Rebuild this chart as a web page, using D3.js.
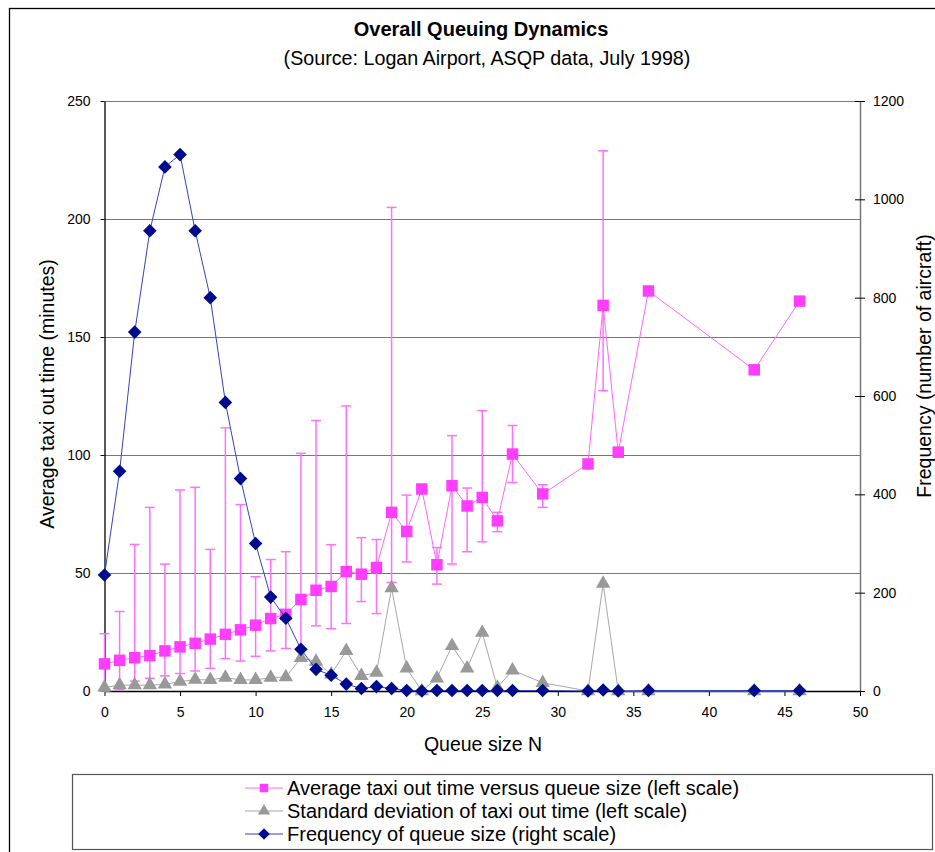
<!DOCTYPE html>
<html>
<head>
<meta charset="utf-8">
<script src="https://cdn.jsdelivr.net/npm/d3@7"></script>
<style>
  html, body { margin: 0; padding: 0; background: #fff; }
  svg { display: block; font-family: "Liberation Sans", Arial, sans-serif; }
</style>
</head>
<body>
<svg id="chart" width="935" height="852"></svg>
<script>
// ---- data ----
const queueSize = [0,1,2,3,4,5,6,7,8,9,10,11,12,13,14,15,16,17,18,19,20,21,22,23,24,25,26,27,29,32,33,34,36,43,46];
const avgTaxi   = [11.5,13,14.1,15,17,18.7,20.2,22,24,25.9,27.9,30.7,32.5,38.8,42.7,44.3,50.6,49.5,52.3,75.7,67.6,85.6,53.5,87,78.4,82,72.1,100.4,83.5,96.2,163.4,101.2,169.5,136.1,165.2];
const errUpper  = [24.3,33.7,62.1,77.8,53.8,85.2,86.3,60,111.5,79,48.4,55.7,59,100.7,114.6,62,120.8,65,64.2,204.9,83,null,60.8,108.2,86,118.8,75.7,112.5,87.4,null,228.9,null,null,null,null];
const errLower  = [0,0.5,4.2,5.4,6.4,7.4,8.5,9.6,13.7,12.7,14.7,17,18,18,27.6,26.4,28.6,37.9,32.8,46,54.7,null,45.3,53.8,59,63.2,67.5,88.3,77.8,null,127.3,null,null,null,null];
const stdDev    = [1.5,2.5,2.5,2.5,2.8,4,4.8,4.7,5.7,4.7,4.7,5.7,5.9,14,12.5,7.1,17,6.4,7.8,43.6,9.6,0,5.4,19.1,9.6,24.7,1.4,8.8,3.5,0,45.5,0,0,0,0];
const frequency = [236,447,730,936,1066,1091,936,800,587,432,300,191,148,85,44,32,14,5,9,5,1,0,1,1,1,1,1,1,1,0,2,0,1,1,1];

const xTicks = [0,5,10,15,20,25,30,35,40,45,50];
const leftTicks = [0,50,100,150,200,250];
const rightTicks = [0,200,400,600,800,1000,1200];

const titleText = "Overall Queuing Dynamics";
const subtitleText = "(Source: Logan Airport, ASQP data, July 1998)";
const xTitle = "Queue size N";
const yLeftTitle = "Average taxi out time (minutes)";
const yRightTitle = "Frequency (number of aircraft)";
const legendLabels = [
  "Average taxi out time versus queue size (left scale)",
  "Standard deviation of taxi out time (left scale)",
  "Frequency of queue size (right scale)"
];

// ---- styles ----
const C = {
  pinkFill: "#ff3dff", pinkLine: "#ff66ff", pinkErr: "#ff70ff",
  grayFill: "#999999", grayLine: "#a8a8a8",
  blueFill: "#000c8c", blueLine: "#3344bb",
  grid: "#777777"
};
const FONT = "Liberation Sans, Arial, sans-serif";

const svg = d3.select("#chart");
const L = 104.5, R = 860, T = 101, B = 691;

const x = d3.scaleLinear().domain([0, 50]).range([L, R]);
const yL = d3.scaleLinear().domain([0, 250]).range([B, T]);
const yR = d3.scaleLinear().domain([0, 1200]).range([B, T]);

// outer frame
svg.append("rect").attr("x", 9.5).attr("y", 8.5).attr("width", 1000).attr("height", 1000)
  .attr("fill", "none").attr("stroke", "#000").attr("stroke-width", 1.3);

// titles
svg.append("text").attr("x", 481).attr("y", 36).attr("text-anchor", "middle")
  .attr("font-size", 20).attr("font-weight", "bold").text(titleText);
svg.append("text").attr("x", 487).attr("y", 65).attr("text-anchor", "middle")
  .attr("font-size", 19.7).text(subtitleText);

// gridlines
svg.append("g").selectAll("line").data(leftTicks.filter(d => d > 0)).join("line")
  .attr("x1", L).attr("x2", R).attr("y1", d => Math.round(yL(d)) + 0.5).attr("y2", d => Math.round(yL(d)) + 0.5)
  .attr("stroke", C.grid).attr("stroke-width", 1.2);

// left axis
const gL = svg.append("g").attr("transform", `translate(${L},0)`)
  .call(d3.axisLeft(yL).tickValues(leftTicks).tickSize(4).tickPadding(10).tickSizeOuter(0).tickFormat(d3.format("d")));
gL.select(".domain").attr("stroke", "#000").attr("stroke-width", 1.3);
gL.selectAll(".tick text").attr("font-size", 14).attr("font-family", FONT).attr("fill", "#000");

// right axis
const gR = svg.append("g").attr("transform", `translate(${R},0)`)
  .call(d3.axisRight(yR).tickValues(rightTicks).tickSize(5).tickPadding(8).tickSizeOuter(0).tickFormat(d3.format("d")));
gR.select(".domain").attr("stroke", "#777").attr("stroke-width", 1.5);
gR.selectAll(".tick line").attr("x1", -5).attr("stroke", "#000");
gR.selectAll(".tick text").attr("font-size", 14).attr("font-family", FONT).attr("fill", "#000");

// bottom axis
const gB = svg.append("g").attr("transform", `translate(0,${B})`)
  .call(d3.axisBottom(x).tickValues(xTicks).tickSize(5).tickPadding(11).tickSizeOuter(0).tickFormat(d3.format("d")));
gB.select(".domain").attr("stroke", "#000").attr("stroke-width", 1.3);
gB.selectAll(".tick text").attr("font-size", 14).attr("font-family", FONT).attr("fill", "#000");

// axis titles
svg.append("text").attr("x", 483).attr("y", 751).attr("text-anchor", "middle").attr("font-size", 19.5).text(xTitle);
svg.append("text").attr("transform", `translate(54,394) rotate(-90)`).attr("text-anchor", "middle")
  .attr("font-size", 19.5).text(yLeftTitle);
svg.append("text").attr("transform", `translate(931,366) rotate(-90)`).attr("text-anchor", "middle")
  .attr("font-size", 19.5).text(yRightTitle);

// data records
const rows = queueSize.map((q, i) => ({ q, avg: avgTaxi[i], up: errUpper[i], lo: errLower[i], sd: stdDev[i], f: frequency[i] }));

const sq = d3.symbol().type(d3.symbolSquare).size(132);
const tri = d3.symbol().type(d3.symbolTriangle).size(90);

// series 1: average taxi time with error bars
const gAvg = svg.append("g");
const errRows = rows.filter(d => d.up !== null);
gAvg.selectAll("line.err").data(errRows).join("line").attr("class", "err")
  .attr("x1", d => x(d.q)).attr("x2", d => x(d.q)).attr("y1", d => yL(d.up)).attr("y2", d => yL(d.lo))
  .attr("stroke", C.pinkErr).attr("stroke-width", 1.5);
gAvg.selectAll("line.capU").data(errRows).join("line").attr("class", "capU")
  .attr("x1", d => x(d.q) - 5).attr("x2", d => x(d.q) + 5).attr("y1", d => yL(d.up)).attr("y2", d => yL(d.up))
  .attr("stroke", C.pinkErr).attr("stroke-width", 1.5);
gAvg.selectAll("line.capL").data(errRows).join("line").attr("class", "capL")
  .attr("x1", d => x(d.q) - 5).attr("x2", d => x(d.q) + 5).attr("y1", d => yL(d.lo)).attr("y2", d => yL(d.lo))
  .attr("stroke", C.pinkErr).attr("stroke-width", 1.5);
gAvg.append("path").datum(rows).attr("fill", "none").attr("stroke", C.pinkLine).attr("stroke-width", 1)
  .attr("d", d3.line().x(d => x(d.q)).y(d => yL(d.avg)));
gAvg.selectAll("path.m").data(rows).join("path").attr("class", "m")
  .attr("transform", d => `translate(${x(d.q)},${yL(d.avg)})`).attr("d", sq).attr("fill", C.pinkFill);

// series 2: std dev
const gSd = svg.append("g");
gSd.append("path").datum(rows).attr("fill", "none").attr("stroke", C.grayLine).attr("stroke-width", 1)
  .attr("d", d3.line().x(d => x(d.q)).y(d => yL(d.sd)));
gSd.selectAll("path.m").data(rows).join("path").attr("class", "m")
  .attr("transform", d => `translate(${x(d.q)},${yL(d.sd)})`).attr("d", tri).attr("fill", C.grayFill);

// series 3: frequency
const gF = svg.append("g");
gF.append("path").datum(rows).attr("fill", "none").attr("stroke", C.blueLine).attr("stroke-width", 1)
  .attr("d", d3.line().x(d => x(d.q)).y(d => yR(d.f)));
gF.selectAll("path.m").data(rows).join("path").attr("class", "m")
  .attr("transform", d => `translate(${x(d.q)},${yR(d.f)})`)
  .attr("d", `M0,-6.8L6.8,0L0,6.8L-6.8,0Z`).attr("fill", C.blueFill);

// legend
const lg = svg.append("g");
lg.append("rect").attr("x", 72.5).attr("y", 774.5).attr("width", 860).attr("height", 75)
  .attr("fill", "#fff").attr("stroke", "#555").attr("stroke-width", 1.2);
const legendRowsY = [788, 811, 834];
const legendStyles = [
  { line: C.pinkLine, fill: C.pinkFill, kind: "sq" },
  { line: C.grayLine, fill: C.grayFill, kind: "tri" },
  { line: C.blueLine, fill: C.blueFill, kind: "dia" }
];
legendLabels.forEach((lab, i) => {
  const yy = legendRowsY[i], st = legendStyles[i];
  lg.append("line").attr("x1", 245).attr("x2", 283).attr("y1", yy).attr("y2", yy)
    .attr("stroke", st.line).attr("stroke-width", 1.2);
  const m = lg.append("path").attr("transform", `translate(264,${yy})`).attr("fill", st.fill);
  if (st.kind === "sq") m.attr("d", d3.symbol().type(d3.symbolSquare).size(72));
  else if (st.kind === "tri") m.attr("d", d3.symbol().type(d3.symbolTriangle).size(64));
  else m.attr("d", `M0,-5.8L5.8,0L0,5.8L-5.8,0Z`);
  lg.append("text").attr("x", 287).attr("y", yy + 7).attr("font-size", 20).text(lab);
});
</script>
</body>
</html>
